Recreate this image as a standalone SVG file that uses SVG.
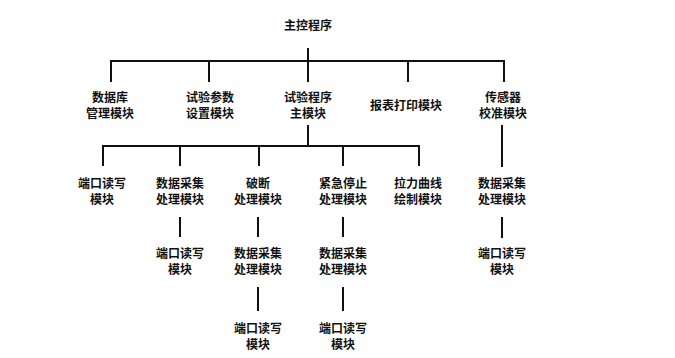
<svg xmlns="http://www.w3.org/2000/svg" width="675" height="358" viewBox="0 0 675 358">
<style>
text{font-family:"Noto Sans CJK SC","Noto Sans CJK JP",sans-serif;font-size:12px;font-weight:bold;fill:#111;text-anchor:middle;dominant-baseline:central}
.c{fill:none;stroke:#111;stroke-width:2}
</style>
<rect width="675" height="358" fill="#fff"/>
<g id="connectors" class="c">
<path d="M308,48V61M111,82V61H504V82M209,61V82M308,61V82M408,61V82"/>
<path d="M308,125V146M103,166V146H419V166M180,146V166M259,146V166M343,146V166"/>
<path d="M502,125V167"/>
<path d="M180,217V237M258,217V237M343,217V237M502,217V238"/>
<path d="M258,287V311M343,287V311"/>
</g>
<g id="n_root"><text x="308" y="24">主控程序</text></g>
<g id="n_db"><text x="110" y="96">数据库</text><text x="110" y="112">管理模块</text></g>
<g id="n_param"><text x="210" y="96">试验参数</text><text x="210" y="112">设置模块</text></g>
<g id="n_main"><text x="308" y="96">试验程序</text><text x="308" y="112">主模块</text></g>
<g id="n_print"><text x="406" y="104">报表打印模块</text></g>
<g id="n_sensor"><text x="503" y="96">传感器</text><text x="503" y="112">校准模块</text></g>
<g id="n_port1"><text x="102" y="182">端口读写</text><text x="102" y="198">模块</text></g>
<g id="n_acq1"><text x="180" y="182">数据采集</text><text x="180" y="198">处理模块</text></g>
<g id="n_break"><text x="258" y="182">破断</text><text x="258" y="198">处理模块</text></g>
<g id="n_stop"><text x="343" y="182">紧急停止</text><text x="343" y="198">处理模块</text></g>
<g id="n_curve"><text x="418" y="182">拉力曲线</text><text x="418" y="198">绘制模块</text></g>
<g id="n_acq_s"><text x="502" y="182">数据采集</text><text x="502" y="198">处理模块</text></g>
<g id="n_port2"><text x="180" y="252">端口读写</text><text x="180" y="268">模块</text></g>
<g id="n_acq2"><text x="258" y="252">数据采集</text><text x="258" y="268">处理模块</text></g>
<g id="n_acq3"><text x="343" y="252">数据采集</text><text x="343" y="268">处理模块</text></g>
<g id="n_port_s"><text x="502" y="252">端口读写</text><text x="502" y="268">模块</text></g>
<g id="n_port3"><text x="258" y="327">端口读写</text><text x="258" y="343">模块</text></g>
<g id="n_port4"><text x="343" y="327">端口读写</text><text x="343" y="343">模块</text></g>
</svg>
